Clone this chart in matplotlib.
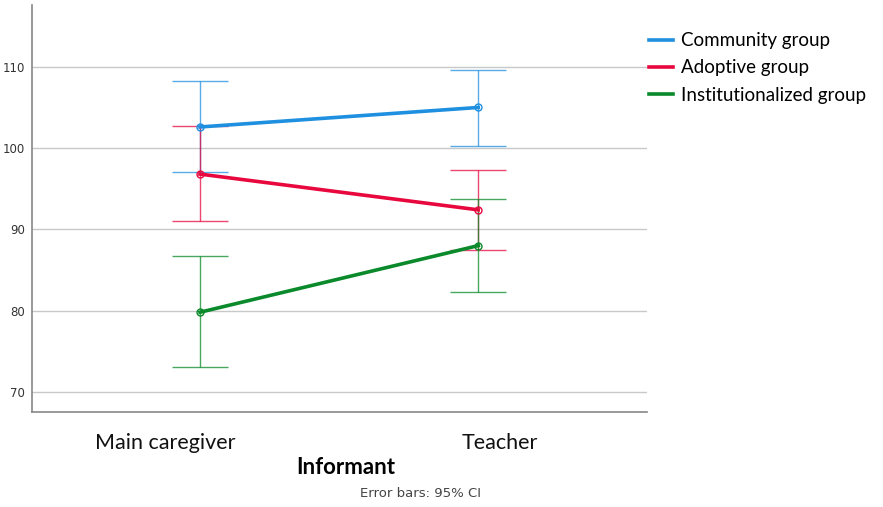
import matplotlib
matplotlib.use("Agg")
import matplotlib.pyplot as plt
from matplotlib.transforms import ScaledTranslation

# group means and 95% CI bounds per informant
informants = ["Main caregiver", "Teacher"]
groups = ["Community group", "Adoptive group", "Institutionalized group"]
means = {
    "Community group": [102.6, 105.0],
    "Adoptive group": [96.8, 92.4],
    "Institutionalized group": [79.8, 88.0],
}
ci_low = {
    "Community group": [97.0, 100.3],
    "Adoptive group": [91.0, 87.5],
    "Institutionalized group": [73.0, 82.3],
}
ci_high = {
    "Community group": [108.2, 109.6],
    "Adoptive group": [102.7, 97.3],
    "Institutionalized group": [86.7, 93.7],
}
colors = {
    "Community group": "#1f8fe0",
    "Adoptive group": "#e8083e",
    "Institutionalized group": "#0a8a2a",
}
yticks = [70, 80, 90, 100, 110]

fig = plt.figure(figsize=(8.83, 5.07), dpi=100)
ax = fig.add_axes([0.0362, 0.187, 0.697, 0.803])

x = list(range(len(informants)))
for g in groups:
    c = colors[g]
    lo = [m - l for m, l in zip(means[g], ci_low[g])]
    hi = [h - m for m, h in zip(means[g], ci_high[g])]
    ax.errorbar(x, means[g], yerr=[lo, hi], fmt="none", ecolor=c,
                elinewidth=1.0, capsize=20, capthick=1.0, alpha=0.75, zorder=3)
    ax.plot(x, means[g], color=c, lw=2.6, marker="o", ms=5,
            mfc="none", mec=c, mew=1.0, zorder=4, label=g)

ax.set_xlim(-0.604, 1.608)
ax.set_ylim(67.5, 117.6)
ax.set_yticks(yticks)
ax.grid(axis="y", color="#c8c8c8", lw=1.0, zorder=0)
ax.tick_params(axis="y", length=0, labelsize=8.5, labelcolor="#333333", pad=5)
ax.tick_params(axis="x", length=0, pad=15)
ax.set_xticks(x)
ax.set_xticklabels(informants, fontsize=15.5, family="Lato", color="#111111")
# nudge the category labels sideways
for lab, dx in zip(ax.get_xticklabels(), [-35, 22]):
    lab.set_transform(lab.get_transform() + ScaledTranslation(dx / 100, 0, fig.dpi_scale_trans))

for s in ["top", "right"]:
    ax.spines[s].set_visible(False)
for s in ["left", "bottom"]:
    ax.spines[s].set_color("#888888")
    ax.spines[s].set_linewidth(1.2)

fig.text(0.391, 0.078, "Informant", ha="center", va="center",
         fontsize=16, fontweight="bold", family="Lato")
fig.text(0.476, 0.026, "Error bars: 95% CI", ha="center", va="center",
         fontsize=9.5, color="#444444")

leg_handles = [plt.Line2D([], [], color=colors[g], lw=2.6) for g in groups]
fig.legend(leg_handles, groups, loc="upper left", bbox_to_anchor=(0.716, 0.97),
           frameon=False, handlelength=1.3, handletextpad=0.4,
           labelspacing=0.55, prop={"family": "Lato", "size": 13.5})

fig.savefig("out.png", dpi=100)
